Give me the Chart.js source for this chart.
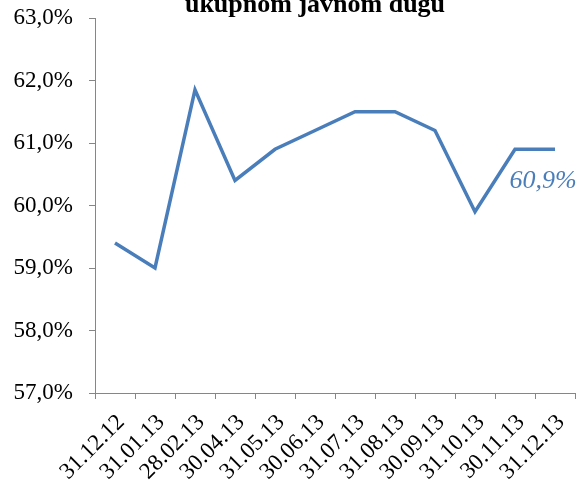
<!DOCTYPE html>
<html>
<head>
<meta charset="utf-8">
<script src="https://cdn.jsdelivr.net/npm/chart.js@4/dist/chart.umd.min.js"></script>
<style>
  html, body { margin: 0; padding: 0; background: #fff; }
  canvas { display: block; }
</style>
</head>
<body>
<canvas id="chart" width="582" height="482"></canvas>
<script>
// chart data
const titleText = 'ukupnom javnom dugu';
const dates = ['31.12.12', '31.01.13', '28.02.13', '30.04.13', '31.05.13', '30.06.13',
               '31.07.13', '31.08.13', '30.09.13', '31.10.13', '30.11.13', '31.12.13'];
const debtShare = [59.4, 59.0, 61.85, 60.4, 60.9, 61.2, 61.5, 61.5, 61.2, 59.9, 60.9, 60.9];
const yMin = 57;
const yMax = 63;

const blue = '#4a7ebb';
const axisGray = '#868686';
const serif = '"Liberation Serif", "Times New Roman", serif';

const fmt = v => v.toFixed(1).replace('.', ',') + '%';

// title, cut at the top edge like in the source
const titlePlugin = {
    id: 'cutTitle',
    afterDraw(chart) {
        const ctx = chart.ctx;
        ctx.save();
        ctx.font = 'bold 26px ' + serif;
        ctx.fillStyle = '#000';
        ctx.textAlign = 'center';
        ctx.textBaseline = 'alphabetic';
        ctx.fillText(titleText, 315, 12);
        ctx.restore();
    }
};

// label for the last point only
const lastLabelPlugin = {
    id: 'lastLabel',
    afterDatasetsDraw(chart) {
        const meta = chart.getDatasetMeta(0);
        const pt = meta.data[meta.data.length - 1];
        const ctx = chart.ctx;
        ctx.save();
        ctx.font = 'italic 26px ' + serif;
        ctx.fillStyle = blue;
        ctx.textAlign = 'center';
        ctx.textBaseline = 'alphabetic';
        ctx.fillText(fmt(debtShare[debtShare.length - 1]), pt.x - 12, pt.y + 39);
        ctx.restore();
    }
};

Chart.defaults.font.family = serif;
Chart.defaults.color = '#000';

new Chart(document.getElementById('chart'), {
    type: 'line',
    data: {
        labels: dates,
        datasets: [{
            data: debtShare,
            borderColor: blue,
            borderWidth: 3.5,
            pointRadius: 0,
            tension: 0,
            fill: false,
        }],
    },
    options: {
        responsive: false,
        animation: false,
        devicePixelRatio: 1,
        layout: { padding: { top: 18, right: 7, left: 0, bottom: 0 } },
        plugins: {
            legend: { display: false },
            tooltip: { enabled: false },
        },
        scales: {
            x: {
                offset: true,
                grid: {
                    offset: true,
                    drawOnChartArea: false,
                    drawTicks: true,
                    tickLength: 6,
                    color: axisGray,
                },
                border: { color: axisGray, width: 1 },
                ticks: {
                    minRotation: 45,
                    maxRotation: 45,
                    autoSkip: false,
                    font: { size: 23 },
                    color: '#000',
                    padding: 10,
                    labelOffset: 6,
                },
                afterFit(scale) {
                    scale.height = 89;
                    scale.paddingLeft = 0;
                    scale.paddingRight = 0;
                },
            },
            y: {
                min: yMin,
                max: yMax,
                grid: {
                    drawOnChartArea: false,
                    drawTicks: true,
                    tickLength: 6,
                    color: axisGray,
                },
                border: { color: axisGray, width: 1 },
                ticks: {
                    stepSize: 1,
                    font: { size: 23 },
                    color: '#000',
                    padding: 16,
                    callback: v => fmt(v),
                },
                afterFit(scale) {
                    scale.width = 95;
                    scale.paddingTop = 0;
                    scale.paddingBottom = 0;
                },
            },
        },
    },
    plugins: [titlePlugin, lastLabelPlugin],
});
</script>
</body>
</html>
